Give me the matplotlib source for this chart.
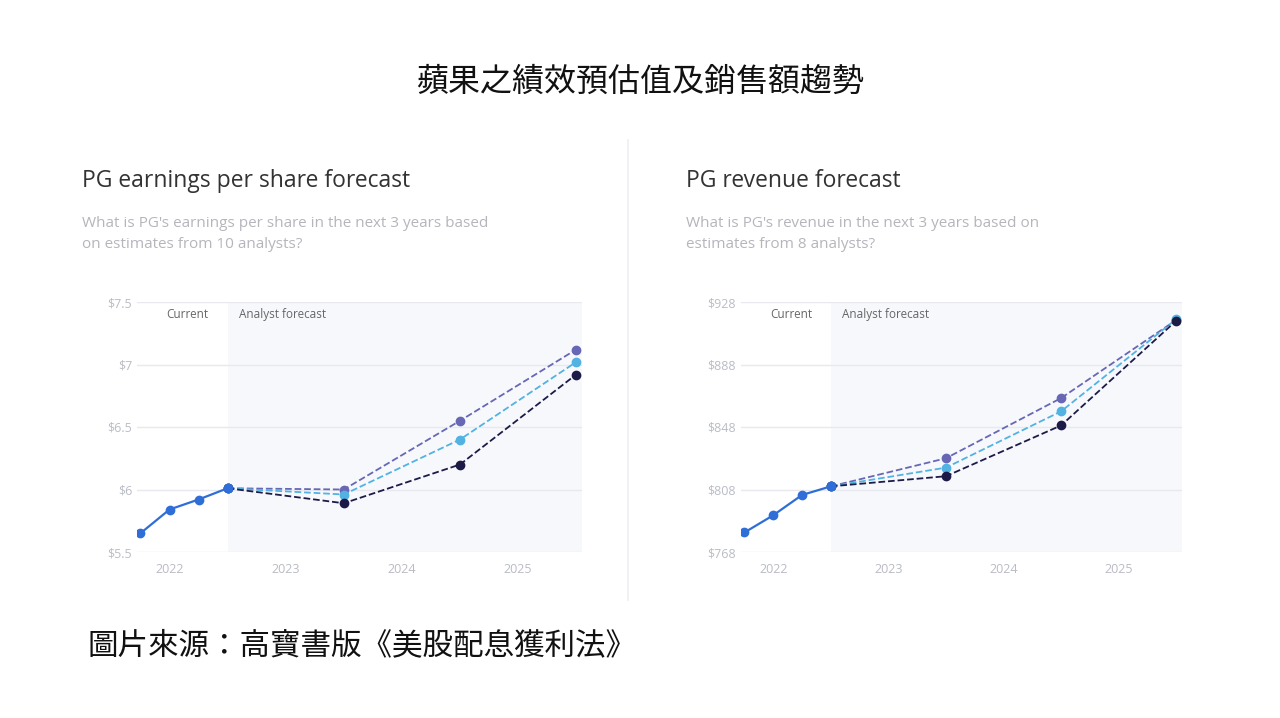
import matplotlib
matplotlib.use("Agg")
import matplotlib.pyplot as plt

hist_x = [2021.75, 2022.0, 2022.25, 2022.5]
fc_x = [2022.5, 2023.5, 2024.5, 2025.5]

eps_hist = [5.65, 5.84, 5.92, 6.01]
eps_high = [6.01, 6.00, 6.55, 7.12]
eps_mid = [6.01, 5.96, 6.40, 7.02]
eps_low = [6.01, 5.89, 6.20, 6.92]
eps_ticks = [5.5, 6, 6.5, 7, 7.5]
eps_labels = ["$5.5", "$6", "$6.5", "$7", "$7.5"]

rev_hist = [780.5, 791.5, 804.5, 810.0]
rev_high = [810.0, 828.0, 866.5, 916.5]
rev_mid = [810.0, 822.0, 858.0, 917.0]
rev_low = [810.0, 816.5, 849.0, 916.0]
rev_ticks = [768, 808, 848, 888, 928]
rev_labels = ["$768", "$808", "$848", "$888", "$928"]

year_ticks = [2022, 2023, 2024, 2025]

C_HIST = "#2f6ed8"; C_HIGH = "#6767b5"; C_MID = "#52b2e2"; C_LOW = "#1c1b48"
GRAY = "#b9bcc4"
CJK = ["Noto Sans CJK TC", "Noto Sans CJK SC", "Noto Sans CJK JP", "Noto Sans CJK KR"]

plt.rcParams["font.family"] = ["Open Sans"] + CJK
fig = plt.figure(figsize=(12.8, 7.18), dpi=100)
W, H = 1280, 718

fig.text(0.5, 1 - 82 / H, "蘋果之績效預估值及銷售額趨勢", ha="center", va="center",
         fontsize=23, family=CJK, color="#111111")
fig.text(88 / W, 1 - 646 / H, "圖片來源：高寶書版《美股配息獲利法》", ha="left", va="center",
         fontsize=22, family=CJK, color="#111111")
fig.add_artist(plt.Line2D([628 / W, 628 / W], [1 - 140 / H, 1 - 600 / H], color="#eeeff2", lw=1.2))

def panel(x0, x1, title, sub, hist, hi, mid, lo, ticks, labels, ylim):
    fig.text(x0 / W - 0.043, 1 - 181 / H, title, fontsize=16.5, color="#333333", va="center")
    fig.text(x0 / W - 0.043, 1 - 234 / H, sub, fontsize=11, color="#b5b5bc",
             va="center", linespacing=1.5)
    ax = fig.add_axes([x0 / W, 1 - 552 / H, (x1 - x0) / W, 250 / H])
    ax.set_xlim(2021.72, 2025.55)
    ax.set_ylim(*ylim)
    ax.axvspan(2022.5, 2025.55, color="#f7f8fc", zorder=0, lw=0)
    for t in ticks:
        ax.axhline(t, color="#e8e9ee", lw=1, zorder=1)
    ax.plot(fc_x, hi, "--o", color=C_HIGH, ms=6, lw=1.3, zorder=3)
    ax.plot(fc_x, mid, "--o", color=C_MID, ms=6, lw=1.3, zorder=3)
    ax.plot(fc_x, lo, "--o", color=C_LOW, ms=6, lw=1.3, zorder=3)
    ax.plot(hist_x, hist, "-o", color=C_HIST, ms=6, lw=1.6, zorder=4)
    ax.set_yticks(ticks); ax.set_yticklabels(labels)
    ax.set_xticks(year_ticks); ax.set_xticklabels([str(y) for y in year_ticks])
    ax.tick_params(length=0, colors=GRAY, labelsize=9)
    ax.tick_params(axis="x", pad=8)
    for s in ax.spines.values():
        s.set_visible(False)
    ax.text(2021.97, ylim[1] - (ylim[1] - ylim[0]) * 0.05, "Current", fontsize=8.5, color="#666666",
            va="center", ha="left")
    ax.text(2022.6, ylim[1] - (ylim[1] - ylim[0]) * 0.05, "Analyst forecast", fontsize=8.5,
            color="#666666", va="center", ha="left")
    ax.set_facecolor("none")

panel(137, 582, "PG earnings per share forecast",
      "What is PG's earnings per share in the next 3 years based\non estimates from 10 analysts?",
      eps_hist, eps_high, eps_mid, eps_low, eps_ticks, eps_labels, (5.5, 7.5))
panel(741, 1182, "PG revenue forecast",
      "What is PG's revenue in the next 3 years based on\nestimates from 8 analysts?",
      rev_hist, rev_high, rev_mid, rev_low, rev_ticks, rev_labels, (768, 928))

fig.savefig("out.png", dpi=100, facecolor="white")
